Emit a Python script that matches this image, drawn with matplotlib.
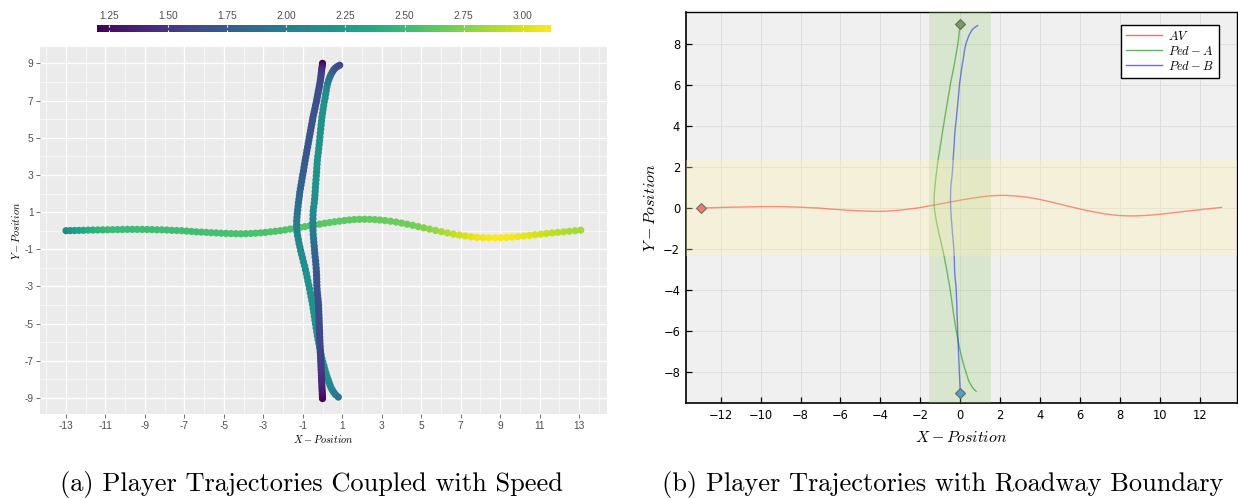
import matplotlib
matplotlib.use('Agg')
import matplotlib.pyplot as plt
from matplotlib.cm import ScalarMappable
from matplotlib.colors import Normalize

plt.rcParams['mathtext.fontset'] = 'cm'

# ---- trajectories, 100 steps each ----
av_x = [-13.00, -12.79, -12.57, -12.35, -12.12, -11.88, -11.64, -11.39, -11.14, -10.89,
        -10.64, -10.39, -10.14, -9.89, -9.64, -9.39, -9.14, -8.89, -8.64, -8.39,
        -8.14, -7.89, -7.64, -7.39, -7.14, -6.89, -6.64, -6.39, -6.14, -5.89,
        -5.64, -5.39, -5.14, -4.89, -4.64, -4.39, -4.14, -3.89, -3.64, -3.39,
        -3.14, -2.89, -2.64, -2.39, -2.14, -1.89, -1.64, -1.39, -1.14, -0.89,
        -0.64, -0.39, -0.14, 0.11, 0.36, 0.61, 0.86, 1.11, 1.36, 1.61,
        1.87, 2.13, 2.39, 2.65, 2.91, 3.17, 3.45, 3.73, 4.01, 4.29,
        4.57, 4.85, 5.13, 5.43, 5.73, 6.03, 6.33, 6.63, 6.93, 7.23,
        7.53, 7.83, 8.13, 8.43, 8.73, 9.03, 9.32, 9.61, 9.90, 10.19,
        10.48, 10.77, 11.06, 11.35, 11.64, 11.93, 12.22, 12.51, 12.80, 13.09]
av_y = [0.00, 0.005, 0.01, 0.015, 0.02, 0.03, 0.035, 0.04, 0.045, 0.05,
        0.055, 0.06, 0.065, 0.07, 0.07, 0.07, 0.07, 0.065, 0.06, 0.05,
        0.045, 0.035, 0.02, 0.01, 0.00, -0.02, -0.04, -0.06, -0.075, -0.09,
        -0.11, -0.12, -0.135, -0.145, -0.155, -0.16, -0.165, -0.16, -0.15, -0.135,
        -0.115, -0.09, -0.06, -0.03, 0.00, 0.04, 0.09, 0.13, 0.175, 0.22,
        0.265, 0.31, 0.355, 0.40, 0.44, 0.48, 0.515, 0.55, 0.575, 0.60,
        0.61, 0.615, 0.61, 0.595, 0.575, 0.545, 0.51, 0.465, 0.41, 0.35,
        0.29, 0.22, 0.155, 0.085, 0.015, -0.055, -0.12, -0.18, -0.235, -0.285,
        -0.325, -0.355, -0.375, -0.385, -0.385, -0.375, -0.36, -0.34, -0.315, -0.285,
        -0.255, -0.22, -0.185, -0.15, -0.12, -0.09, -0.06, -0.03, 0.00, 0.03]
av_speed = [2.10, 2.17, 2.24, 2.30, 2.35, 2.39, 2.42, 2.45, 2.47, 2.49,
            2.50, 2.50, 2.51, 2.51, 2.51, 2.52, 2.52, 2.52, 2.52, 2.53,
            2.53, 2.53, 2.53, 2.53, 2.54, 2.54, 2.54, 2.54, 2.54, 2.55,
            2.55, 2.55, 2.55, 2.55, 2.56, 2.56, 2.56, 2.56, 2.57, 2.57,
            2.57, 2.57, 2.58, 2.58, 2.58, 2.59, 2.59, 2.59, 2.60, 2.60,
            2.60, 2.61, 2.61, 2.62, 2.62, 2.63, 2.63, 2.64, 2.64, 2.65,
            2.65, 2.65, 2.66, 2.66, 2.67, 2.67, 2.68, 2.68, 2.69, 2.69,
            2.70, 2.72, 2.75, 2.78, 2.81, 2.85, 2.89, 2.93, 2.97, 3.00,
            3.03, 3.06, 3.08, 3.10, 3.11, 3.11, 3.10, 3.09, 3.07, 3.05,
            3.03, 3.00, 2.98, 2.95, 2.93, 2.91, 2.89, 2.87, 2.86, 2.85]

ped_a_x = [0.00, -0.01, -0.03, -0.045, -0.06, -0.075, -0.09, -0.11, -0.13, -0.155,
           -0.18, -0.21, -0.235, -0.265, -0.29, -0.32, -0.355, -0.385, -0.42, -0.455,
           -0.49, -0.515, -0.545, -0.575, -0.605, -0.635, -0.665, -0.695, -0.725, -0.755,
           -0.79, -0.815, -0.85, -0.88, -0.91, -0.94, -0.965, -1.00, -1.03, -1.06,
           -1.09, -1.12, -1.15, -1.17, -1.195, -1.22, -1.24, -1.26, -1.28, -1.295,
           -1.31, -1.31, -1.305, -1.29, -1.26, -1.225, -1.19, -1.145, -1.105, -1.06,
           -1.01, -0.965, -0.91, -0.865, -0.82, -0.78, -0.74, -0.695, -0.655, -0.62,
           -0.58, -0.545, -0.505, -0.475, -0.445, -0.415, -0.385, -0.355, -0.325, -0.29,
           -0.26, -0.225, -0.19, -0.15, -0.11, -0.07, -0.03, 0.02, 0.07, 0.12,
           0.17, 0.22, 0.28, 0.33, 0.38, 0.43, 0.50, 0.57, 0.66, 0.80]
ped_a_y = [9.00, 8.88, 8.755, 8.625, 8.495, 8.36, 8.225, 8.085, 7.945, 7.80,
           7.655, 7.505, 7.355, 7.20, 7.045, 6.885, 6.725, 6.565, 6.40, 6.235,
           6.07, 5.90, 5.73, 5.56, 5.385, 5.21, 5.035, 4.86, 4.68, 4.50,
           4.32, 4.14, 3.955, 3.77, 3.585, 3.40, 3.21, 3.02, 2.83, 2.64,
           2.45, 2.26, 2.07, 1.88, 1.69, 1.50, 1.305, 1.11, 0.915, 0.72,
           0.525, 0.325, 0.125, -0.075, -0.275, -0.475, -0.675, -0.875, -1.075, -1.275,
           -1.475, -1.68, -1.885, -2.09, -2.295, -2.50, -2.71, -2.92, -3.13, -3.34,
           -3.55, -3.76, -3.97, -4.18, -4.39, -4.60, -4.81, -5.02, -5.23, -5.44,
           -5.65, -5.855, -6.06, -6.265, -6.47, -6.675, -6.875, -7.075, -7.27, -7.46,
           -7.645, -7.825, -7.995, -8.155, -8.305, -8.445, -8.575, -8.695, -8.82, -8.95]
ped_a_speed = [1.20, 1.30, 1.38, 1.45, 1.50, 1.54, 1.57, 1.60, 1.62, 1.63,
               1.64, 1.65, 1.65, 1.66, 1.66, 1.67, 1.67, 1.67, 1.68, 1.68,
               1.68, 1.68, 1.69, 1.69, 1.69, 1.69, 1.70, 1.70, 1.70, 1.70,
               1.71, 1.71, 1.72, 1.72, 1.73, 1.74, 1.75, 1.76, 1.77, 1.78,
               1.79, 1.80, 1.82, 1.84, 1.86, 1.88, 1.90, 1.92, 1.94, 1.96,
               1.98, 2.00, 2.02, 2.04, 2.06, 2.08, 2.09, 2.10, 2.11, 2.12,
               2.13, 2.14, 2.15, 2.15, 2.16, 2.16, 2.16, 2.16, 2.16, 2.16,
               2.16, 2.16, 2.16, 2.16, 2.16, 2.16, 2.16, 2.16, 2.16, 2.16,
               2.16, 2.16, 2.16, 2.16, 2.16, 2.16, 2.16, 2.16, 2.15, 2.15,
               2.15, 2.14, 2.13, 2.11, 2.09, 2.07, 2.05, 2.02, 1.99, 1.95]

ped_b_x = [0.00, -0.005, -0.01, -0.015, -0.025, -0.03, -0.035, -0.045, -0.05, -0.055,
           -0.06, -0.07, -0.075, -0.08, -0.09, -0.095, -0.10, -0.11, -0.115, -0.12,
           -0.13, -0.135, -0.14, -0.145, -0.15, -0.16, -0.165, -0.17, -0.175, -0.18,
           -0.19, -0.195, -0.20, -0.215, -0.23, -0.25, -0.265, -0.28, -0.285, -0.29,
           -0.295, -0.30, -0.31, -0.32, -0.335, -0.35, -0.37, -0.39, -0.405, -0.42,
           -0.44, -0.455, -0.47, -0.48, -0.485, -0.49, -0.485, -0.48, -0.47, -0.45,
           -0.42, -0.40, -0.385, -0.37, -0.36, -0.345, -0.33, -0.315, -0.30, -0.29,
           -0.275, -0.26, -0.24, -0.21, -0.19, -0.17, -0.15, -0.13, -0.11, -0.09,
           -0.07, -0.05, -0.03, 0.00, 0.03, 0.06, 0.09, 0.13, 0.16, 0.19,
           0.22, 0.26, 0.31, 0.37, 0.43, 0.50, 0.57, 0.65, 0.75, 0.87]
ped_b_y = [-9.03, -8.90, -8.77, -8.635, -8.50, -8.36, -8.22, -8.075, -7.93, -7.78,
           -7.63, -7.48, -7.325, -7.17, -7.015, -6.855, -6.695, -6.535, -6.375, -6.21,
           -6.045, -5.88, -5.715, -5.545, -5.375, -5.205, -5.035, -4.865, -4.695, -4.525,
           -4.355, -4.18, -4.005, -3.83, -3.655, -3.48, -3.30, -3.12, -2.94, -2.76,
           -2.58, -2.395, -2.205, -2.015, -1.82, -1.625, -1.425, -1.225, -1.025, -0.82,
           -0.615, -0.41, -0.20, 0.01, 0.22, 0.43, 0.64, 0.85, 1.06, 1.27,
           1.48, 1.69, 1.90, 2.11, 2.32, 2.53, 2.74, 2.95, 3.16, 3.37,
           3.58, 3.79, 4.00, 4.21, 4.42, 4.63, 4.84, 5.05, 5.26, 5.47,
           5.68, 5.89, 6.10, 6.31, 6.52, 6.73, 6.94, 7.145, 7.345, 7.54,
           7.73, 7.915, 8.09, 8.255, 8.405, 8.54, 8.655, 8.75, 8.83, 8.90]
ped_b_speed = [1.22, 1.25, 1.28, 1.31, 1.34, 1.37, 1.40, 1.42, 1.44, 1.46,
               1.48, 1.50, 1.52, 1.53, 1.54, 1.55, 1.56, 1.57, 1.58, 1.59,
               1.60, 1.60, 1.61, 1.61, 1.62, 1.62, 1.63, 1.63, 1.64, 1.64,
               1.65, 1.65, 1.66, 1.66, 1.67, 1.67, 1.68, 1.68, 1.69, 1.69,
               1.70, 1.70, 1.71, 1.72, 1.73, 1.75, 1.78, 1.81, 1.84, 1.87,
               1.90, 1.93, 1.96, 1.99, 2.02, 2.05, 2.07, 2.09, 2.11, 2.12,
               2.13, 2.14, 2.15, 2.16, 2.16, 2.16, 2.16, 2.16, 2.16, 2.16,
               2.16, 2.16, 2.16, 2.16, 2.16, 2.16, 2.16, 2.16, 2.16, 2.16,
               2.16, 2.16, 2.16, 2.16, 2.16, 2.16, 2.16, 2.15, 2.14, 2.12,
               2.08, 2.03, 1.98, 1.92, 1.86, 1.80, 1.74, 1.69, 1.65, 1.62]

# speed scale and ticks
speed_min, speed_max = 1.198, 3.118
cbar_ticks = [1.25, 1.50, 1.75, 2.00, 2.25, 2.50, 2.75, 3.00]
left_xticks = [-13, -11, -9, -7, -5, -3, -1, 1, 3, 5, 7, 9, 11, 13]
left_yticks = [-9, -7, -5, -3, -1, 1, 3, 5, 7, 9]
left_xminor = [-14, -12, -10, -8, -6, -4, -2, 0, 2, 4, 6, 8, 10, 12, 14]
left_yminor = [-8, -6, -4, -2, 0, 2, 4, 6, 8]
right_xticks = [-12, -10, -8, -6, -4, -2, 0, 2, 4, 6, 8, 10, 12]
right_yticks = [-8, -6, -4, -2, 0, 2, 4, 6, 8]

# roadway / crosswalk half widths
road_half = 2.34
cross_half = 1.55

series_names = [r'$AV$', r'$Ped-A$', r'$Ped-B$']
captions = ['(a) Player Trajectories Coupled with Speed',
            '(b) Player Trajectories with Roadway Boundary']

fig = plt.figure(figsize=(12.38, 4.98), dpi=100)
norm = Normalize(speed_min, speed_max)

# ---------------- (a) speed-coloured scatter, ggplot look ----------------
ax1 = fig.add_axes([0.0323, 0.1687, 0.458, 0.7376])
ax1.set_facecolor('#EBEBEB')
for xs, ys, sp in [(av_x, av_y, av_speed),
                   (ped_a_x, ped_a_y, ped_a_speed),
                   (ped_b_x, ped_b_y, ped_b_speed)]:
    ax1.scatter(xs, ys, c=sp, cmap='viridis', norm=norm, s=27, linewidths=0, zorder=3)

ax1.set_xlim(-14.32, 14.42)
ax1.set_ylim(-9.86, 9.9)
tick_font = dict(fontfamily='Liberation Sans', fontsize=7.3, color='#4D4D4D')
ax1.set_xticks(left_xticks, labels=[str(t) for t in left_xticks], **tick_font)
ax1.set_yticks(left_yticks, labels=[str(t) for t in left_yticks], **tick_font)
ax1.set_xticks(left_xminor, minor=True)
ax1.set_yticks(left_yminor, minor=True)
ax1.tick_params(which='major', length=2.7, width=0.5, color='#333333', pad=2)
ax1.tick_params(which='minor', length=0)
ax1.grid(which='major', color='white', lw=0.9)
ax1.grid(which='minor', color='white', lw=0.4)
ax1.set_axisbelow(True)
for sp in ax1.spines.values():
    sp.set_visible(False)
ax1.set_xlabel(r'$X-Position$', fontsize=7.5, labelpad=2)
ax1.set_ylabel(r'$Y-Position$', fontsize=7.5, labelpad=2)

# colour bar on top
cax = fig.add_axes([0.0781, 0.9363, 0.3667, 0.01345])
cb = fig.colorbar(ScalarMappable(norm=norm, cmap='viridis'), cax=cax,
                  orientation='horizontal', ticks=cbar_ticks)
cb.outline.set_visible(False)
cb.minorticks_off()
cb.set_ticklabels([f'{t:.2f}' for t in cbar_ticks])
cax.tick_params(axis='x', top=True, bottom=True, labeltop=True, labelbottom=False,
                direction='in', color='white', length=1.6, width=0.8,
                labelsize=7.3, labelcolor='#4D4D4D', pad=3.0)
for lab in cax.get_xticklabels():
    lab.set_fontfamily('Liberation Sans')

# ---------------- (b) lines with roadway boundary ----------------
ax2 = fig.add_axes([0.5539, 0.1902, 0.4451, 0.7851])
ax2.set_facecolor('#F0F0F0')
ax2.plot(av_x, av_y, color='red', alpha=0.6, lw=1.0, label=series_names[0], zorder=2)
ax2.plot(ped_a_x, ped_a_y, color='green', alpha=0.6, lw=1.0, label=series_names[1], zorder=2)
ax2.plot(ped_b_x, ped_b_y, color='blue', alpha=0.6, lw=1.0, label=series_names[2], zorder=2)

# crosswalk and road bands drawn over the lines
ax2.axvspan(-cross_half, cross_half, color='#94CC70', alpha=0.25, lw=0, zorder=3)
ax2.axhspan(-road_half, road_half, color='#FFF0AD', alpha=0.32, lw=0, zorder=3.1)

# start markers
ax2.plot(av_x[0], av_y[0], marker='D', ms=5.4, mfc='#F27A66', mec='#707070', mew=0.8, ls='none', zorder=4)
ax2.plot(ped_a_x[0], ped_a_y[0], marker='D', ms=5.4, mfc='#7A9B69', mec='#5E6E55', mew=0.8, ls='none', zorder=4)
ax2.plot(ped_b_x[0], ped_b_y[0], marker='D', ms=5.4, mfc='#55A0BE', mec='#5E6E6E', mew=0.8, ls='none', zorder=4)

ax2.set_xlim(-13.75, 13.85)
ax2.set_ylim(-9.53, 9.55)
ax2.set_xticks(right_xticks)
ax2.set_yticks(right_yticks)
ax2.tick_params(direction='in', length=4, width=0.9, labelsize=8.3, pad=4)
ax2.grid(color='#DDDDDD', lw=0.7)
ax2.set_axisbelow(True)
for sp in ax2.spines.values():
    sp.set_color('black')
    sp.set_linewidth(1.0)
ax2.spines['left'].set_linewidth(1.2)
ax2.spines['bottom'].set_linewidth(1.2)
ax2.set_xlabel(r'$X-Position$', fontsize=11.5, labelpad=6)
ax2.set_ylabel(r'$Y-Position$', fontsize=11.5, labelpad=4)

leg = ax2.legend(loc='upper right', bbox_to_anchor=(0.968, 0.968), fontsize=9,
                 fancybox=False, edgecolor='black', framealpha=1, borderpad=0.4,
                 labelspacing=0.15, handlelength=2.9, handletextpad=0.5, borderaxespad=0)
leg.get_frame().set_linewidth(1.0)

# captions
fig.text(0.252, 0.014, captions[0], fontfamily='cmr10', fontsize=19, ha='center', va='baseline')
fig.text(0.7617, 0.014, captions[1], fontfamily='cmr10', fontsize=19, ha='center', va='baseline')

fig.savefig('out.png', dpi=100)
